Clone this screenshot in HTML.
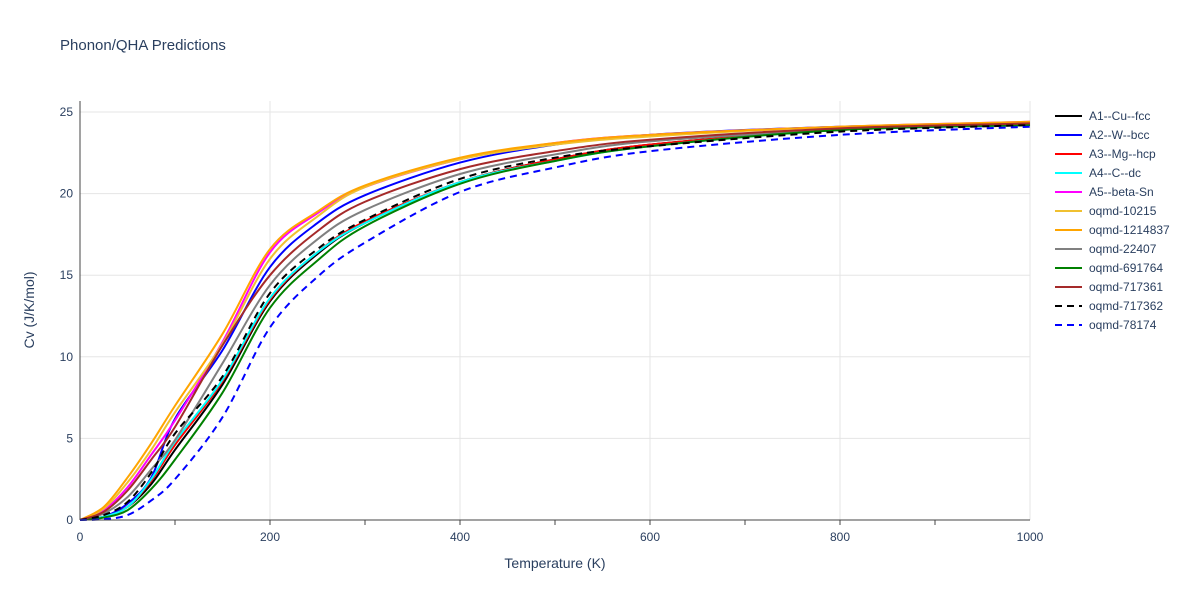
<!DOCTYPE html>
<html><head><meta charset="utf-8"><style>
body{margin:0;background:#fff;font-family:"Liberation Sans",sans-serif;}
svg text{font-family:"Liberation Sans",sans-serif;fill:#2a3f5f;}
</style></head><body>
<svg id="chart" width="1200" height="600">
<text x="60" y="50" font-size="15">Phonon/QHA Predictions</text>
<g id="grid"></g><g id="series"></g><g id="axes"></g><g id="legend"></g>
<text x="555" y="568" font-size="14" text-anchor="middle">Temperature (K)</text>
<text transform="translate(34,310) rotate(-90)" font-size="14" text-anchor="middle">Cv (J/K/mol)</text>
</svg>
<script>
const temps=[0,25,50,75,100,150,200,250,300,400,500,600,800,1000];
const seriesNames=["A1--Cu--fcc","A2--W--bcc","A3--Mg--hcp","A4--C--dc","A5--beta-Sn","oqmd-10215","oqmd-1214837","oqmd-22407","oqmd-691764","oqmd-717361","oqmd-717362","oqmd-78174"];
const cuVals=[0,0.2,0.8,2.2,4.3,8.3,13.4,16.3,18.2,20.7,22.1,23.0,23.9,24.2];
const wVals=[0,0.2,1.0,2.6,6.2,10.4,15.5,18.2,19.9,21.9,23.0,23.6,24.1,24.3];
const mgVals=[0,0.2,0.8,2.4,4.6,8.5,13.5,16.4,18.3,20.7,22.1,23.0,23.9,24.3];
const cVals=[0,0.2,0.8,2.5,4.8,8.6,13.6,16.4,18.2,20.7,22.0,22.9,23.9,24.2];
const snVals=[0,0.6,2.0,4.0,6.1,10.9,16.4,18.8,20.4,22.1,23.1,23.6,24.1,24.4];
const o10215Vals=[0,0.7,2.3,4.3,6.6,10.8,16.0,18.6,20.4,22.1,23.0,23.5,24.1,24.35];
const o1214837Vals=[0,0.8,2.6,4.7,7.0,11.4,16.6,18.9,20.5,22.2,23.1,23.6,24.1,24.4];
const o22407Vals=[0,0.4,1.4,3.1,4.9,9.6,14.4,17.2,19.0,21.2,22.4,23.2,23.9,24.3];
const o691764Vals=[0,0.15,0.6,1.9,3.7,7.8,13.0,15.9,18.0,20.6,22.0,22.9,23.9,24.2];
const o717361Vals=[0,0.5,1.8,3.7,5.7,10.7,15.0,17.7,19.5,21.5,22.6,23.3,24.0,24.3];
const o717362Vals=[0,0.3,1.1,2.9,5.3,8.8,13.9,16.6,18.4,20.9,22.2,22.9,23.8,24.2];
const o78174Vals=[0,0.05,0.3,1.2,2.5,6.3,11.8,14.9,17.0,20.1,21.6,22.6,23.6,24.1];
const allVals=[cuVals,wVals,mgVals,cVals,snVals,o10215Vals,o1214837Vals,o22407Vals,o691764Vals,o717361Vals,o717362Vals,o78174Vals];
const colors=["#000000","#0000ff","#ff0000","#00ffff","#ff00ff","#f0c030","#ffa500","#808080","#008000","#a52a2a","#000000","#0000ff"];
const dashed=[false,false,false,false,false,false,false,false,false,false,true,true];
const xTicks=[0,200,400,600,800,1000];
const yTicks=[0,5,10,15,20,25];
const NS="http://www.w3.org/2000/svg";
const X0=80,X1=1030,Y0=520,YT=101;
const xs=t=>X0+(t/1000)*(X1-X0);
const ys=v=>Y0-v*16.32;
function mk(tag,attrs,parent){const e=document.createElementNS(NS,tag);for(const k in attrs)e.setAttribute(k,attrs[k]);parent.appendChild(e);return e;}
const grid=document.getElementById('grid'),axes=document.getElementById('axes'),ser=document.getElementById('series'),leg=document.getElementById('legend');
xTicks.forEach(t=>{
 if(t>0){const g=mk('line',{x1:xs(t),x2:xs(t),y1:YT,y2:Y0,stroke:'#e5e5e5','stroke-width':1},grid);
 
 }
 const tx=mk('text',{x:xs(t),y:Y0+21,'font-size':12,'text-anchor':'middle'},axes);tx.textContent=t;
 
 
});
for(let t=100;t<1000;t+=100){const m=mk('line',{x1:xs(t),x2:xs(t),y1:Y0,y2:Y0+5,stroke:'#444'},axes);
 
 }
yTicks.forEach(v=>{
 if(v>0){const g=mk('line',{x1:X0,x2:X1,y1:ys(v),y2:ys(v),stroke:'#e5e5e5','stroke-width':1},grid);
 
 }
 const tx=mk('text',{x:X0-7,y:ys(v)+4,'font-size':12,'text-anchor':'end'},axes);tx.textContent=v;
 
 
});
const xa=mk('line',{x1:X0,x2:X1,y1:Y0,y2:Y0,stroke:'#444'},axes);


const ya=mk('line',{x1:X0,x2:X0,y1:YT,y2:Y0,stroke:'#444'},axes);


function pathFor(vals){
 const p=temps.map((t,i)=>[xs(t),ys(vals[i])]);
 let d=`M${p[0][0]},${p[0][1]}`;
 for(let i=0;i<p.length-1;i++){
  const p0=p[Math.max(0,i-1)],p1=p[i],p2=p[i+1],p3=p[Math.min(p.length-1,i+2)];
  const c1=[p1[0]+(p2[0]-p0[0])/6,p1[1]+(p2[1]-p0[1])/6];
  const c2=[p2[0]-(p3[0]-p1[0])/6,p2[1]-(p3[1]-p1[1])/6];
  d+=`C${c1[0]},${c1[1]} ${c2[0]},${c2[1]} ${p2[0]},${p2[1]}`;
 }
 return d;
}
allVals.forEach((vals,i)=>{
 const a={d:pathFor(vals),fill:'none',stroke:colors[i],'stroke-width':2};
 if(dashed[i])a['stroke-dasharray']='7,5';
 const pth=mk('path',a,ser);
 
 
 const y=116+i*19;
 const g=mk('g',{},leg);
 
 
 const la={x1:1055,x2:1082,y1:y,y2:y,stroke:colors[i],'stroke-width':2};
 if(dashed[i])la['stroke-dasharray']='7,5';
 mk('line',la,g);
 const tx=mk('text',{x:1089,y:y+4,'font-size':12},g);tx.textContent=seriesNames[i];
});
</script>
</body></html>
